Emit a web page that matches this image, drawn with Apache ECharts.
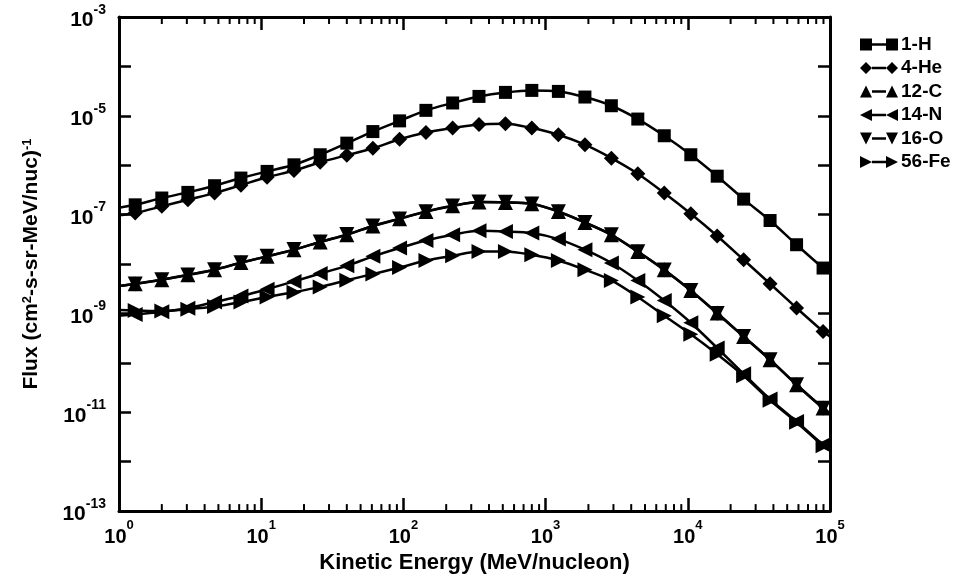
<!DOCTYPE html>
<html><head><meta charset="utf-8">
<script src="https://cdn.jsdelivr.net/npm/echarts@6/dist/echarts.min.js"></script>
<style>html,body{margin:0;padding:0;background:#fff}#c{width:970px;height:579px}</style>
</head><body><div id="c"></div>
<script>
// Kinetic energy (MeV/nucleon) at marker positions
const energies = [1.3, 2.0, 3.05, 4.7, 7.2, 11, 17, 26, 40, 61, 94, 144, 222, 340, 522, 800, 1230, 1890, 2900, 4450, 6830, 10500, 16100, 24700, 37900, 58200, 89400];
// where the curves meet the frame (no marker)
const edgeEnergies = [1, 100000];

const fluxH  = [1.58e-7, 2.17e-7, 2.82e-7, 3.85e-7, 5.5e-7, 7.5e-7, 1.02e-6, 1.63e-6, 2.8e-6, 4.8e-6, 7.9e-6, 1.29e-5, 1.82e-5, 2.47e-5, 2.98e-5, 3.27e-5, 3.12e-5, 2.4e-5, 1.6e-5, 8.6e-6, 3.95e-6, 1.63e-6, 6.0e-7, 2.06e-7, 7.6e-8, 2.46e-8, 8.3e-9];
const fluxHe = [1.08e-7, 1.47e-7, 2.0e-7, 2.73e-7, 3.95e-7, 5.7e-7, 7.8e-7, 1.15e-6, 1.6e-6, 2.2e-6, 3.35e-6, 4.6e-6, 5.66e-6, 6.7e-6, 6.9e-6, 5.66e-6, 4.14e-6, 2.6e-6, 1.39e-6, 6.7e-7, 2.73e-7, 1.04e-7, 3.7e-8, 1.22e-8, 3.99e-9, 1.29e-9, 4.33e-10];
const fluxC  = [4.0e-9, 4.8e-9, 6.07e-9, 7.67e-9, 1.07e-8, 1.43e-8, 1.95e-8, 2.8e-8, 3.92e-8, 5.9e-8, 8.3e-8, 1.16e-7, 1.51e-7, 1.8e-7, 1.77e-7, 1.66e-7, 1.16e-7, 6.95e-8, 3.92e-8, 1.8e-8, 7.67e-9, 2.92e-9, 1.02e-9, 3.42e-10, 1.16e-10, 3.6e-11, 1.22e-11];
const fluxN  = [0.95e-9, 1.08e-9, 1.28e-9, 1.7e-9, 2.25e-9, 3.1e-9, 4.45e-9, 6.45e-9, 9.2e-9, 1.43e-8, 2.11e-8, 3.0e-8, 3.92e-8, 4.7e-8, 4.57e-8, 4.25e-8, 3.2e-8, 1.95e-8, 1.05e-8, 4.66e-9, 1.83e-9, 6.5e-10, 2.0e-10, 6.0e-11, 1.85e-11, 6.5e-12, 2.2e-12];
const fluxO  = [3.95e-9, 4.8e-9, 6.0e-9, 7.7e-9, 1.06e-8, 1.43e-8, 1.96e-8, 2.8e-8, 3.95e-8, 5.9e-8, 8.2e-8, 1.15e-7, 1.5e-7, 1.8e-7, 1.78e-7, 1.65e-7, 1.15e-7, 6.9e-8, 3.9e-8, 1.78e-8, 7.6e-9, 2.9e-9, 1.0e-9, 3.4e-10, 1.15e-10, 3.6e-11, 1.2e-11];
const fluxFe = [1.15e-9, 1.12e-9, 1.22e-9, 1.38e-9, 1.7e-9, 2.15e-9, 2.7e-9, 3.45e-9, 4.7e-9, 6.3e-9, 8.5e-9, 1.18e-8, 1.47e-8, 1.8e-8, 1.8e-8, 1.54e-8, 1.18e-8, 7.67e-9, 4.66e-9, 2.15e-9, 9.0e-10, 3.8e-10, 1.5e-10, 5.5e-11, 1.75e-11, 6.3e-12, 2.1e-12];

const edgeH  = [1.38e-7, 6.5e-9];
const edgeHe = [0.97e-7, 3.4e-10];
const edgeC  = [3.6e-9, 9.5e-12];
const edgeN  = [0.9e-9, 1.75e-12];
const edgeO  = [3.6e-9, 9.4e-12];
const edgeFe = [1.17e-9, 1.7e-12];

const seriesNames = ['1-H', '4-He', '12-C', '14-N', '16-O', '56-Fe'];

const xMin = 1, xMax = 1e5, yMin = 1e-13, yMax = 1e-3;
const minorXTicks = [];
for (let k = 0; k < 5; k++) for (let d = 2; d <= 9; d++) minorXTicks.push(d * Math.pow(10, k));

const FONT = '"Liberation Sans", Arial, Helvetica, sans-serif';
const richX = {
  b: {fontSize: 20, fontWeight: 'bold', fontFamily: FONT, color: '#000', lineHeight: 28, verticalAlign: 'bottom'},
  s: {fontSize: 13, fontWeight: 'bold', fontFamily: FONT, color: '#000', lineHeight: 13, verticalAlign: 'top'}
};
const richY = {
  b: {fontSize: 21, fontWeight: 'bold', fontFamily: FONT, color: '#000', lineHeight: 28, verticalAlign: 'bottom'},
  s: {fontSize: 14, fontWeight: 'bold', fontFamily: FONT, color: '#000', lineHeight: 14, verticalAlign: 'top'}
};
const pow10 = v => Math.round(Math.log10(v));

// marker shapes (unit box 12x12) and legend icons (marker - line - marker)
const SQ = 'M0,0h12v12h-12z', DI = 'M0,6L6,0L12,6L6,12z', UP = 'M0,12L6,0L12,12z',
      LF = 'M0,6L12,0L12,12z', DN = 'M0,0L12,0L6,12z', RT = 'M0,0L12,6L0,12z';
const shift = (p) => p.replace(/([ML])(\d+),/g, (m, c, x) => c + (+x + 26) + ',').replace(/h12v12h-12z/, 'h12v12h-12z');
const LINE = 'M12,4.8h14v2.4h-14z';
const icon = (p) => 'path://' + p + LINE + shift(p);
const styles = [
  {path: SQ, size: 13},
  {path: DI, size: 15},
  {path: UP, size: 15},
  {path: LF, size: 15},
  {path: DN, size: 15},
  {path: RT, size: 15}
];
const allVals = [fluxH, fluxHe, fluxC, fluxN, fluxO, fluxFe];
const allEdges = [edgeH, edgeHe, edgeC, edgeN, edgeO, edgeFe];

const series = seriesNames.map((name, i) => {
  const data = [{value: [edgeEnergies[0], allEdges[i][0]], symbol: 'none'}];
  energies.forEach((e, j) => data.push([e, allVals[i][j]]));
  data.push({value: [edgeEnergies[1], allEdges[i][1]], symbol: 'none'});
  return {
    name, type: 'line', data, xAxisIndex: 0, yAxisIndex: 0,
    symbol: 'path://' + styles[i].path, symbolSize: styles[i].size, symbolKeepAspect: true,
    smooth: 0.3,
    lineStyle: {color: '#000', width: 2.5},
    itemStyle: {color: '#000'},
    clip: true, z: 3 + i
  };
});

series.push({
  type: 'custom', name: 'minor', xAxisIndex: 0, yAxisIndex: 0, silent: true, clip: false, z: 10,
  data: minorXTicks.map(v => [v, yMin]),
  renderItem: (params, api) => {
    const v = api.value(0);
    const b = api.coord([v, yMin]);
    const t = api.coord([v, yMax]);
    return {type: 'group', children: [
      {type: 'line', shape: {x1: b[0], y1: b[1], x2: b[0], y2: b[1] - 7}, style: {stroke: '#000', lineWidth: 2}},
      {type: 'line', shape: {x1: t[0], y1: t[1], x2: t[0], y2: t[1] + 7}, style: {stroke: '#000', lineWidth: 2}}
    ]};
  }
});

const axisLine = {show: true, onZero: false, lineStyle: {color: '#000', width: 3}};
const chart = echarts.init(document.getElementById('c'), null, {renderer: 'canvas'});
chart.setOption({
  animation: false,
  backgroundColor: '#fff',
  grid: {left: 119, right: 140, top: 17, bottom: 67, containLabel: false},
  legend: {
    orient: 'vertical', left: 855, top: 30, itemGap: 4.5, itemWidth: 38, itemHeight: 12,
    data: seriesNames.map((n, i) => ({name: n, icon: 'path://' + (i === 0 ? 'M0,0h12v12h-12zM12,4.8h14v2.4h-14zM26,0h12v12h-12z' : styles[i].path + LINE + shift(styles[i].path))})),
    textStyle: {fontSize: 19, fontWeight: 'bold', fontFamily: FONT, color: '#000', padding: [0, 0, 0, -2]},
    selectedMode: false
  },
  xAxis: [{
    type: 'log', logBase: 10, min: xMin, max: xMax, splitNumber: 5, position: 'bottom',
    axisLine, splitLine: {show: false},
    axisTick: {show: true, inside: true, length: 13, lineStyle: {color: '#000', width: 2.5}},
    axisLabel: {margin: 8, formatter: v => '{b|10}{s|' + pow10(v) + '}', rich: richX},
    name: 'Kinetic Energy (MeV/nucleon)', nameLocation: 'middle', nameGap: 37,
    nameTextStyle: {fontSize: 22, fontWeight: 'bold', fontFamily: FONT, color: '#000'}
  }, {
    type: 'log', logBase: 10, min: xMin, max: xMax, splitNumber: 5, position: 'top',
    axisLine, splitLine: {show: false},
    axisTick: {show: true, inside: true, length: 13, lineStyle: {color: '#000', width: 2.5}},
    axisLabel: {show: false}
  }],
  yAxis: [{
    type: 'log', logBase: 10, min: yMin, max: yMax, splitNumber: 10, position: 'left',
    axisLine, splitLine: {show: false},
    axisTick: {show: true, inside: true, length: 12, lineStyle: {color: '#000', width: 2.5}},
    axisLabel: {margin: 13, formatter: v => { const e = pow10(v); return (e % 2 === 0) ? '' : '{b|10}{s|' + e + '}'; }, rich: richY},
    name: 'Flux (cm{s|2}-s-sr-MeV/nuc){s|-1}', nameLocation: 'middle', nameGap: 77, nameRotate: 90,
    nameTextStyle: {fontSize: 21, fontWeight: 'bold', fontFamily: FONT, color: '#000',
      rich: {s: {fontSize: 13, fontWeight: 'bold', fontFamily: FONT, color: '#000', lineHeight: 13, verticalAlign: 'top', padding: [0, 0, 6, 0]}}}
  }, {
    type: 'log', logBase: 10, min: yMin, max: yMax, splitNumber: 10, position: 'right',
    axisLine, splitLine: {show: false},
    axisTick: {show: true, inside: true, length: 12, lineStyle: {color: '#000', width: 2.5}},
    axisLabel: {show: false}
  }],
  series
});
</script></body></html>
